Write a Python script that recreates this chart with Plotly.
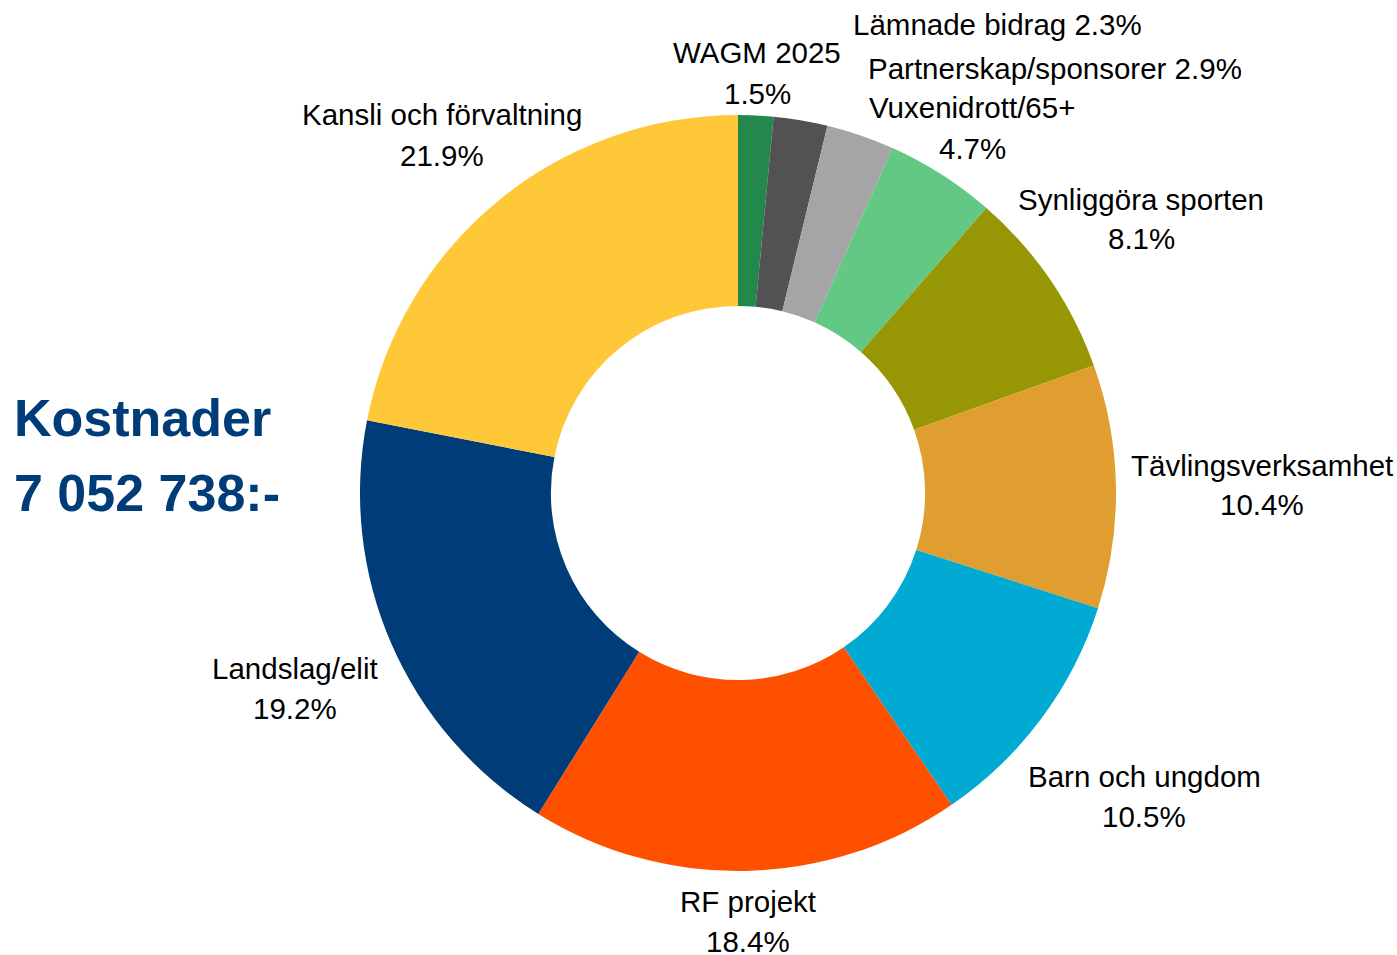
import plotly.graph_objects as go

W, H = 1397, 955

categories = ["WAGM 2025", "Lämnade bidrag", "Partnerskap/sponsorer", "Vuxenidrott/65+",
              "Synliggöra sporten", "Tävlingsverksamhet", "Barn och ungdom", "RF projekt",
              "Landslag/elit", "Kansli och förvaltning"]
percent = [1.5, 2.3, 2.9, 4.7, 8.1, 10.4, 10.5, 18.4, 19.2, 21.9]
colors = ["#23884B", "#525252", "#A5A5A5", "#62C884", "#979605",
          "#DF9E2F", "#00AAD3", "#FF5000", "#003C78", "#FFC838"]
title_lines = ["Kostnader", "7 052 738:-"]

# label layout: (x_px, y_px of first line, single_line?)
label_pos = [
    (757, 53, False), (997, 25, True), (1055, 68, True), (972, 108, False),
    (1141, 199, False), (1262, 465, False), (1144, 776, False), (748, 901, False),
    (295, 668, False), (442, 115, False),
]
line_gap = 40

cx, cy, r = 738, 493, 378

fig = go.Figure(go.Pie(
    labels=categories, values=percent, sort=False, direction="clockwise", rotation=0,
    hole=0.495, marker=dict(colors=colors, line=dict(width=0)),
    textinfo="none", hoverinfo="label+percent", showlegend=False,
    domain=dict(x=[(cx - r) / W, (cx + r) / W], y=[(H - cy - r) / H, (H - cy + r) / H]),
))

font = dict(family="Liberation Sans, Arial, sans-serif", size=29.5, color="#000000")
ann = []
for name, p, (x, y, single) in zip(categories, percent, label_pos):
    if single:
        ann.append(dict(x=x / W, y=1 - y / H, text=f"{name} {p}%"))
    else:
        ann.append(dict(x=x / W, y=1 - y / H, text=name))
        ann.append(dict(x=x / W, y=1 - (y + line_gap) / H, text=f"{p}%"))
for a in ann:
    a.update(xref="paper", yref="paper", xanchor="center", yanchor="middle",
             showarrow=False, font=font)

tfont = dict(family="Liberation Sans, Arial, sans-serif", size=52, color="#003C78")
for i, t in enumerate(title_lines):
    ann.append(dict(x=12 / W, y=1 - (418 + 75 * i) / H, text=f"<b>{t}</b>",
                    xref="paper", yref="paper", xanchor="left", yanchor="middle",
                    showarrow=False, font=tfont))

fig.update_layout(width=W, height=H, margin=dict(l=0, r=0, t=0, b=0),
                  paper_bgcolor="white", plot_bgcolor="white", annotations=ann)
fig.write_html("out.html", config={"displayModeBar": False},
               post_script="document.body.style.margin='0';")
